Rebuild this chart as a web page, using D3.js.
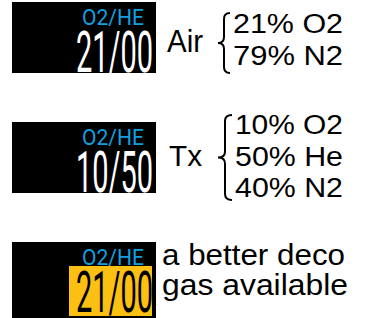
<!DOCTYPE html>
<html><head><meta charset="utf-8">
<script src="https://cdn.jsdelivr.net/npm/d3@7"></script>
<style>html,body{margin:0;padding:0;background:#fff;}svg{display:block;}</style>
</head><body>
<script>
// Data
const rows = ["air", "trimix", "deco"];
const headerLabel = "O2/HE";
const displayValues = ["21/00", "10/50", "21/00"];
const gasNames = ["Air", "Tx"];
const airMix = ["21% O2", "79% N2"];
const trimixMix = ["10% O2", "50% He", "40% N2"];
const decoNote = ["a better deco", "gas available"];
const highlighted = [false, false, true];

const W = 367, H = 318;
const svg = d3.select("body").append("svg").attr("width", W).attr("height", H);

const y = d3.scaleLinear().domain([0, 2]).range([2, 242]);
const boxX = 12, boxW = 144, boxH = 71;
const bigFont = "Roboto,'Liberation Sans Narrow','Liberation Sans',sans-serif";
const textFont = "'Liberation Sans',Arial,Helvetica,sans-serif";

function txt(x, yy, s, size, len, fill, fam, weight) {
  const t = svg.append("text").attr("x", x).attr("y", yy)
    .attr("font-family", fam || textFont).attr("font-size", size)
    .attr("fill", fill || "#000").text(s);
  if (weight) t.attr("font-weight", weight);
  if (len) t.attr("textLength", len).attr("lengthAdjust", "spacingAndGlyphs");
  return t;
}

rows.forEach((r, i) => {
  const y0 = y(i);
  svg.append("rect").attr("x", boxX).attr("y", y0).attr("width", boxW)
    .attr("height", i === 2 ? 76 : boxH).attr("fill", "#000");
  txt(82, y0 + 23, headerLabel, 22, 62, "#10a0e0", bigFont, 400);
  if (highlighted[i]) {
    svg.append("rect").attr("x", 69).attr("y", y0 + 24).attr("width", 83)
      .attr("height", 50).attr("fill", "#fcc012");
  }
  txt(76, y0 + 70, displayValues[i], 57, 77, highlighted[i] ? "#000" : "#fff", bigFont, 400);
});

function brace(x1, x2, yt, yb) {
  const xm = (x1 + x2) / 2, ym = (yt + yb) / 2, r = Math.min(6, (x2 - x1) / 2);
  return `M${x2},${yt} Q${xm},${yt} ${xm},${yt + r} L${xm},${ym - r} Q${xm},${ym} ${x1},${ym} ` +
    `Q${xm},${ym} ${xm},${ym + r} L${xm},${yb - r} Q${xm},${yb} ${x2},${yb}`;
}

// Air
txt(167, 52, gasNames[0], 32, 36);
svg.append("path").attr("d", brace(218, 230, 13, 73)).attr("fill", "none")
  .attr("stroke", "#000").attr("stroke-width", 2);
airMix.forEach((t, k) => txt(233, 33 + k * 32, t, 27, 110));

// Trimix
txt(169, 166, gasNames[1], 29, 33);
svg.append("path").attr("d", brace(218, 232, 115, 200)).attr("fill", "none")
  .attr("stroke", "#000").attr("stroke-width", 2);
trimixMix.forEach((t, k) => txt(235, 134 + k * 31.5, t, 27, 108));

// Deco note
txt(162, 265, decoNote[0], 30, 183);
txt(162, 295, decoNote[1], 30, 186);
</script>
</body></html>
